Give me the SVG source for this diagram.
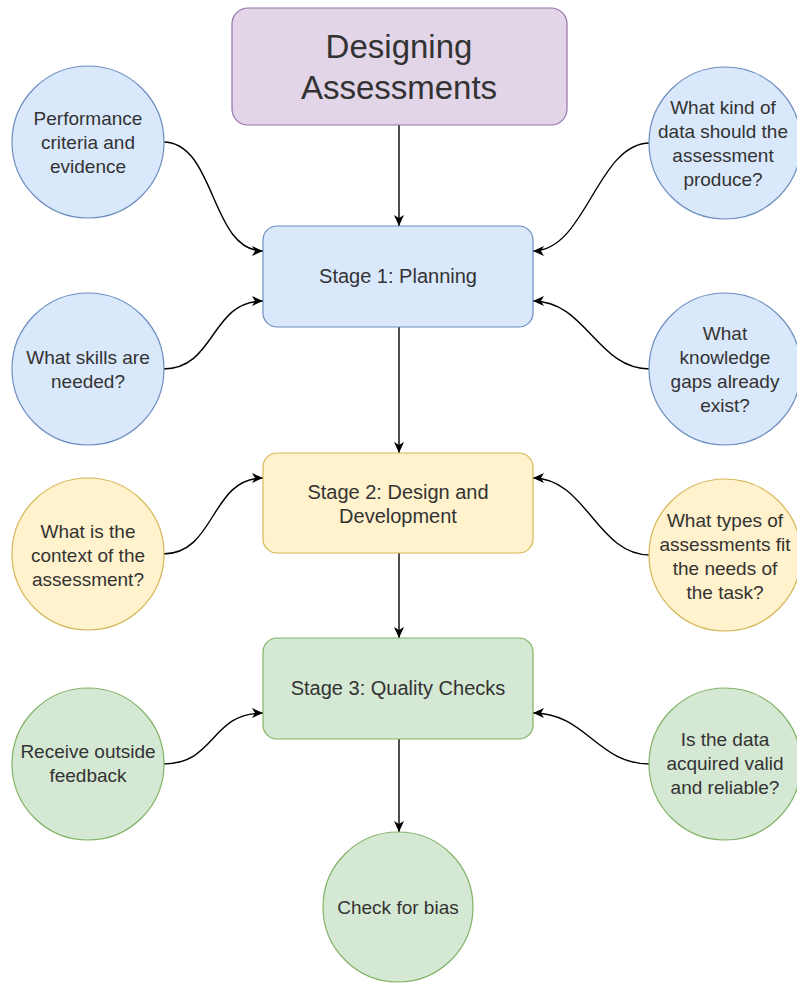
<svg xmlns="http://www.w3.org/2000/svg" width="797" height="983" viewBox="0 0 797 983">
<defs>
<marker id="arr" markerUnits="userSpaceOnUse" markerWidth="12" markerHeight="10" refX="11" refY="5" orient="auto">
<path d="M0,0 L11,5 L0,10 L3,5 Z" fill="#000"/>
</marker>
<style>
text{font-family:"Liberation Sans",Arial,sans-serif;fill:#333;text-anchor:middle}
.t{font-size:33px}
.s{font-size:20px}
.c{font-size:19px}
.pu{fill:#e1d5e7;stroke:#9673a6;stroke-width:1.2}
.bl{fill:#dae8fc;stroke:#6c8ebf;stroke-width:1.2}
.ye{fill:#fff2cc;stroke:#d6b656;stroke-width:1.2}
.gr{fill:#d5e8d4;stroke:#82b366;stroke-width:1.2}
.e{fill:none;stroke:#000;stroke-width:1.4;marker-end:url(#arr)}
</style>
</defs>
<rect width="797" height="983" fill="#fff"/>
<g id="connectors">
<path class="e" d="M399,125 L399,226"/>
<path class="e" d="M399,327 L399,453"/>
<path class="e" d="M399,553 L399,638"/>
<path class="e" d="M399,739 L399,832"/>
<path class="e" d="M163,142 C216,142 210,251 263,251"/>
<path class="e" d="M163,369 C216,369 210,301 263,301"/>
<path class="e" d="M163,554 C216,554 210,478 263,478"/>
<path class="e" d="M163,764 C216,764 210,713 263,713"/>
<path class="e" d="M650,143 C597,143 586,251 533,251"/>
<path class="e" d="M650,369 C597,369 586,301 533,301"/>
<path class="e" d="M650,555 C597,555 586,478 533,478"/>
<path class="e" d="M650,764 C597,764 586,713 533,713"/>
</g>
<g id="title">
<rect class="pu" x="232" y="8" width="335" height="117" rx="16"/>
<text class="t" x="399" y="58">Designing</text>
<text class="t" x="399" y="99">Assessments</text>
</g>
<g id="stage1">
<rect class="bl" x="263" y="226" width="270" height="101" rx="14"/>
<text class="s" x="398" y="283">Stage 1: Planning</text>
</g>
<g id="stage2">
<rect class="ye" x="263" y="453" width="270" height="100" rx="14"/>
<text class="s" x="398" y="499">Stage 2: Design and</text>
<text class="s" x="398" y="523">Development</text>
</g>
<g id="stage3">
<rect class="gr" x="263" y="638" width="270" height="101" rx="14"/>
<text class="s" x="398" y="695">Stage 3: Quality Checks</text>
</g>
<g id="performance">
<circle class="bl" cx="88" cy="142" r="76"/>
<text class="c" x="88" y="125">Performance</text>
<text class="c" x="88" y="149">criteria and</text>
<text class="c" x="88" y="173">evidence</text>
</g>
<g id="datakind">
<circle class="bl" cx="725" cy="143" r="76"/>
<text class="c" x="723" y="114">What kind of</text>
<text class="c" x="723" y="138">data should the</text>
<text class="c" x="723" y="162">assessment</text>
<text class="c" x="723" y="186">produce?</text>
</g>
<g id="skills">
<circle class="bl" cx="88" cy="369" r="76"/>
<text class="c" x="88" y="364">What skills are</text>
<text class="c" x="88" y="388">needed?</text>
</g>
<g id="gaps">
<circle class="bl" cx="725" cy="369" r="76"/>
<text class="c" x="725" y="340">What</text>
<text class="c" x="725" y="364">knowledge</text>
<text class="c" x="725" y="388">gaps already</text>
<text class="c" x="725" y="412">exist?</text>
</g>
<g id="context">
<circle class="ye" cx="88" cy="554" r="76"/>
<text class="c" x="88" y="538">What is the</text>
<text class="c" x="88" y="562">context of the</text>
<text class="c" x="88" y="586">assessment?</text>
</g>
<g id="types">
<circle class="ye" cx="725" cy="555" r="76"/>
<text class="c" x="725" y="527">What types of</text>
<text class="c" x="725" y="551">assessments fit</text>
<text class="c" x="725" y="575">the needs of</text>
<text class="c" x="725" y="599">the task?</text>
</g>
<g id="feedback">
<circle class="gr" cx="88" cy="764" r="76"/>
<text class="c" x="88" y="758">Receive outside</text>
<text class="c" x="88" y="782">feedback</text>
</g>
<g id="valid">
<circle class="gr" cx="725" cy="764" r="76"/>
<text class="c" x="725" y="746">Is the data</text>
<text class="c" x="725" y="770">acquired valid</text>
<text class="c" x="725" y="794">and reliable?</text>
</g>
<g id="bias">
<circle class="gr" cx="398" cy="907" r="75"/>
<text class="c" x="398" y="914">Check for bias</text>
</g>
</svg>
